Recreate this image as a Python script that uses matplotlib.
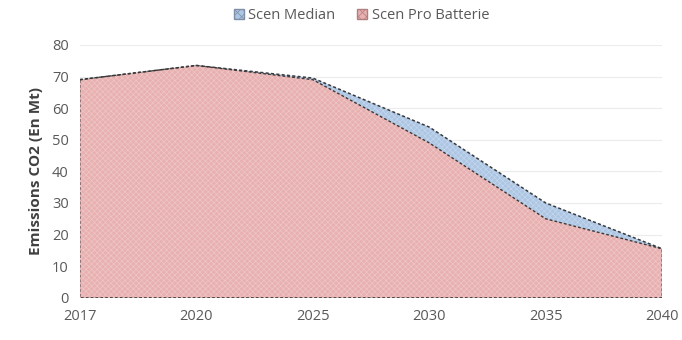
import matplotlib.pyplot as plt
from matplotlib.patches import Patch

years = ['2017', '2020', '2025', '2030', '2035', '2040']
scen_median = [69, 73.5, 69.5, 54, 30, 15.5]
scen_pro_batterie = [69, 73.5, 69, 49, 25, 15.5]

plt.rcParams['hatch.linewidth'] = 0.5
plt.rcParams['font.family'] = 'Open Sans'

fig = plt.figure(figsize=(6.82, 3.40), dpi=100)
ax = fig.add_axes([0.117, 0.124, 0.854, 0.744])

x = range(len(years))
blue = '#adc6e4'
pink = '#e8b0b0'

ax.fill_between(x, 0, scen_median, facecolor=blue, hatch='xxxxxx', edgecolor='#c4d6ec', linewidth=0)
ax.plot(x, scen_median, color='#3a3a3a', linestyle=(0, (2, 1.5)), linewidth=1.1)
ax.fill_between(x, 0, scen_pro_batterie, facecolor=pink, hatch='xxxxxx', edgecolor='#efc6c6', linewidth=0)
ax.plot(list(x) + [x[-1], x[0], x[0]],
        scen_pro_batterie + [0, 0, scen_pro_batterie[0]],
        color='#3a3a3a', linestyle=(0, (2, 1.5)), linewidth=1.0)

ax.set_xlim(0, len(years) - 1)
ax.set_ylim(0, 80)
ax.set_yticks(range(0, 81, 10))
ax.set_xticks(list(x))
ax.set_xticklabels(years)
ax.tick_params(axis='both', length=0, labelsize=10.5, colors='#595959', pad=8)
ax.grid(axis='y', color='#ececec', linewidth=0.8)
ax.set_axisbelow(True)
for s in ax.spines.values():
    s.set_visible(False)
ax.set_ylabel('Emissions CO2 (En Mt)', fontsize=11, color='#404040', fontweight='bold', labelpad=6)

handles = [Patch(facecolor=blue, edgecolor='#7f8fa8', hatch='xxxx', label='Scen Median'),
           Patch(facecolor=pink, edgecolor='#b07f7f', hatch='xxxx', label='Scen Pro Batterie')]
fig.legend(handles=handles, loc='upper center', bbox_to_anchor=(0.53, 1.015), ncol=2, frameon=False,
           fontsize=10.5, labelcolor='#595959', handlelength=0.7, handleheight=0.7, handletextpad=0.3,
           columnspacing=1.5)

fig.savefig('out.png', dpi=100)
